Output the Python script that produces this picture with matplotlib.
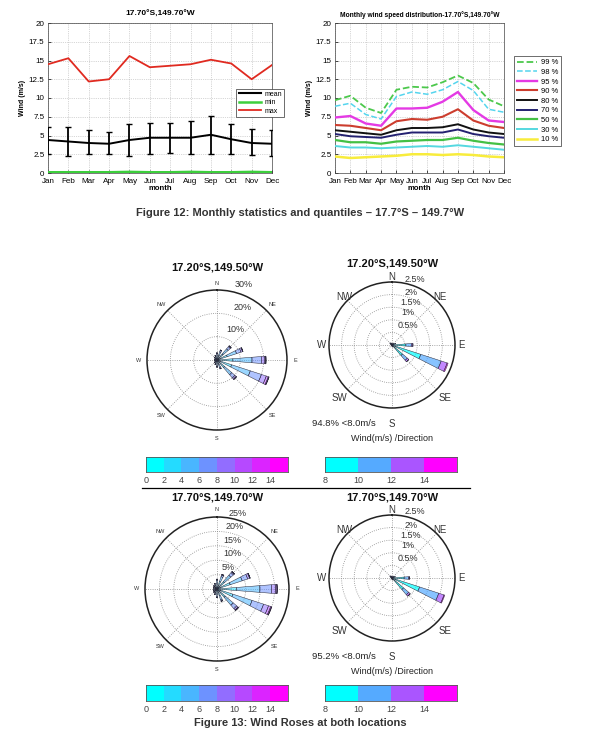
import numpy as np
import matplotlib
matplotlib.use('Agg')
import matplotlib.pyplot as plt
from matplotlib.lines import Line2D
from matplotlib.colors import ListedColormap, to_rgba

plt.rcParams['font.family'] = ['Liberation Sans', 'DejaVu Sans']

# ---------------- data: monthly statistics ----------------
months = ['Jan', 'Feb', 'Mar', 'Apr', 'May', 'Jun', 'Jul', 'Aug', 'Sep', 'Oct', 'Nov', 'Dec']
mean_ws = [4.4, 4.2, 4.0, 3.9, 4.4, 4.7, 4.7, 4.7, 5.1, 4.5, 4.0, 3.9]
err_upper = [6.2, 6.1, 5.7, 5.5, 6.5, 6.7, 6.7, 6.9, 7.6, 6.6, 5.9, 5.7]
err_lower = [2.5, 2.3, 2.5, 2.5, 2.3, 2.6, 2.7, 2.5, 2.5, 2.5, 2.4, 2.3]
min_ws = [0.1, 0.1, 0.1, 0.1, 0.15, 0.1, 0.1, 0.15, 0.1, 0.1, 0.15, 0.1]
max_ws = [14.5, 15.3, 12.2, 12.5, 15.6, 14.1, 14.3, 14.5, 15.1, 14.6, 12.5, 14.4]

# ---------------- data: monthly quantiles ----------------
quantile_labels = ['99 %', '98 %', '95 %', '90 %', '80 %', '70 %', '50 %', '30 %', '10 %']
q99 = [9.7, 10.3, 8.7, 8.0, 11.1, 11.5, 11.4, 12.1, 13.0, 12.0, 9.8, 8.9]
q98 = [8.9, 9.3, 7.8, 7.2, 10.2, 10.8, 10.5, 11.1, 12.2, 11.0, 8.5, 8.1]
q95 = [7.4, 7.6, 6.6, 6.3, 8.6, 8.6, 8.7, 9.5, 10.8, 8.4, 7.0, 6.8]
q90 = [6.4, 6.3, 6.0, 5.7, 6.9, 7.2, 7.1, 7.5, 8.5, 7.0, 6.3, 6.0]
q80 = [5.7, 5.5, 5.3, 5.1, 5.7, 6.0, 6.0, 6.1, 6.5, 5.8, 5.4, 5.2]
q70 = [5.2, 4.9, 4.8, 4.7, 5.1, 5.4, 5.4, 5.4, 5.8, 5.2, 4.9, 4.7]
q50 = [4.4, 4.1, 4.1, 3.9, 4.2, 4.3, 4.4, 4.4, 4.7, 4.3, 4.0, 3.8]
q30 = [3.6, 3.4, 3.4, 3.3, 3.4, 3.5, 3.6, 3.5, 3.7, 3.5, 3.3, 3.1]
q10 = [2.2, 2.0, 2.1, 2.2, 2.3, 2.5, 2.5, 2.4, 2.5, 2.4, 2.2, 2.1]

# ---------------- data: wind roses ----------------
rose_dirs = ['N', 'NNE', 'NE', 'ENE', 'E', 'ESE', 'SE', 'SSE',
             'S', 'SSW', 'SW', 'WSW', 'W', 'WNW', 'NW', 'NNW']
speed_bins_all = [0, 2, 4, 6, 8, 10, 12, 14]
speed_bins_high = [8, 10, 12, 14]

# % frequency per direction (rows) and speed bin (columns), all speeds
rose_a_all = [
    [0.5, 1.2, 0.9, 0.3, 0.1, 0.0, 0.0, 0.0],   # N
    [0.6, 1.6, 1.5, 0.6, 0.2, 0.0, 0.0, 0.0],   # NNE
    [0.8, 2.6, 2.9, 1.2, 0.4, 0.1, 0.0, 0.0],   # NE
    [1.0, 3.6, 4.2, 2.0, 0.7, 0.2, 0.0, 0.0],   # ENE
    [1.2, 5.6, 8.2, 4.0, 1.5, 0.4, 0.1, 0.0],   # E
    [1.2, 5.4, 8.4, 5.0, 2.2, 0.9, 0.3, 0.1],   # ESE
    [0.9, 3.4, 4.0, 1.8, 0.7, 0.2, 0.0, 0.0],   # SE
    [0.6, 1.5, 1.2, 0.5, 0.2, 0.0, 0.0, 0.0],   # SSE
    [0.5, 1.2, 0.9, 0.3, 0.1, 0.0, 0.0, 0.0],   # S
    [0.5, 0.8, 0.5, 0.2, 0.0, 0.0, 0.0, 0.0],   # SSW
    [0.4, 0.6, 0.4, 0.1, 0.0, 0.0, 0.0, 0.0],   # SW
    [0.3, 0.4, 0.3, 0.0, 0.0, 0.0, 0.0, 0.0],   # WSW
    [0.3, 0.4, 0.3, 0.0, 0.0, 0.0, 0.0, 0.0],   # W
    [0.3, 0.4, 0.3, 0.0, 0.0, 0.0, 0.0, 0.0],   # WNW
    [0.4, 0.6, 0.4, 0.1, 0.0, 0.0, 0.0, 0.0],   # NW
    [0.5, 0.8, 0.5, 0.2, 0.0, 0.0, 0.0, 0.0],   # NNW
]
# speeds above 8 m/s only
rose_a_high = [
    [0.05, 0.01, 0.0, 0.0], [0.04, 0.01, 0.0, 0.0], [0.06, 0.02, 0.0, 0.0],
    [0.12, 0.03, 0.0, 0.0], [0.55, 0.22, 0.06, 0.0], [1.20, 0.85, 0.25, 0.04],
    [0.55, 0.25, 0.08, 0.0], [0.06, 0.02, 0.0, 0.0], [0.04, 0.01, 0.0, 0.0],
    [0.02, 0.0, 0.0, 0.0], [0.02, 0.0, 0.0, 0.0], [0.02, 0.0, 0.0, 0.0],
    [0.03, 0.0, 0.0, 0.0], [0.05, 0.01, 0.0, 0.0], [0.08, 0.03, 0.0, 0.0],
    [0.06, 0.02, 0.0, 0.0],
]
rose_b_all = [
    [0.5, 1.3, 1.1, 0.4, 0.1, 0.0, 0.0, 0.0],   # N
    [0.7, 2.0, 1.8, 0.6, 0.2, 0.0, 0.0, 0.0],   # NNE
    [0.8, 2.6, 2.9, 1.2, 0.4, 0.1, 0.0, 0.0],   # NE
    [1.0, 3.8, 4.4, 2.0, 0.7, 0.2, 0.0, 0.0],   # ENE
    [1.2, 5.6, 8.1, 4.0, 1.5, 0.4, 0.1, 0.0],   # E
    [1.1, 4.7, 7.0, 4.2, 1.8, 0.8, 0.3, 0.1],   # ESE
    [0.8, 3.0, 3.6, 1.6, 0.6, 0.2, 0.0, 0.0],   # SE
    [0.6, 1.8, 1.5, 0.5, 0.1, 0.0, 0.0, 0.0],   # SSE
    [0.5, 1.2, 0.9, 0.3, 0.1, 0.0, 0.0, 0.0],   # S
    [0.5, 0.8, 0.5, 0.2, 0.0, 0.0, 0.0, 0.0],   # SSW
    [0.4, 0.6, 0.4, 0.1, 0.0, 0.0, 0.0, 0.0],   # SW
    [0.3, 0.5, 0.4, 0.0, 0.0, 0.0, 0.0, 0.0],   # WSW
    [0.3, 0.5, 0.4, 0.0, 0.0, 0.0, 0.0, 0.0],   # W
    [0.3, 0.5, 0.4, 0.0, 0.0, 0.0, 0.0, 0.0],   # WNW
    [0.4, 0.6, 0.4, 0.1, 0.0, 0.0, 0.0, 0.0],   # NW
    [0.5, 0.8, 0.5, 0.2, 0.0, 0.0, 0.0, 0.0],   # NNW
]
rose_b_high = [
    [0.05, 0.01, 0.0, 0.0], [0.04, 0.01, 0.0, 0.0], [0.06, 0.02, 0.0, 0.0],
    [0.10, 0.03, 0.0, 0.0], [0.48, 0.18, 0.04, 0.0], [1.15, 0.80, 0.22, 0.03],
    [0.60, 0.27, 0.08, 0.0], [0.06, 0.02, 0.0, 0.0], [0.04, 0.01, 0.0, 0.0],
    [0.02, 0.0, 0.0, 0.0], [0.02, 0.0, 0.0, 0.0], [0.02, 0.0, 0.0, 0.0],
    [0.03, 0.0, 0.0, 0.0], [0.05, 0.01, 0.0, 0.0], [0.08, 0.03, 0.0, 0.0],
    [0.06, 0.02, 0.0, 0.0],
]
rose_a_title = '17.20°S,149.50°W'
rose_b_title = '17.70°S,149.70°W'
rose_a_calm = '94.8% <8.0m/s'
rose_b_calm = '95.2% <8.0m/s'

# ---------------- figure ----------------
W, H = 600, 744
fig = plt.figure(figsize=(6, 7.44), dpi=100)


def fx(px):
    return px / W


def fy(py):
    return 1 - py / H


def style_line_axes(ax):
    ax.set_xlim(1, 12)
    ax.set_ylim(0, 20)
    yt = np.arange(0, 20.01, 2.5)
    ax.set_yticks(yt)
    ax.set_yticklabels(['%g' % v for v in yt])
    ax.set_xticks(np.arange(1, 13))
    ax.set_xticklabels(months)
    ax.tick_params(labelsize=5.8, direction='in', length=2, width=0.5)
    ax.tick_params(axis='x', pad=3.5)
    ax.tick_params(axis='y', pad=2.5)
    ax.grid(True, linestyle=':', color='#b0b0b0', linewidth=0.5)
    for s in ax.spines.values():
        s.set_linewidth(0.5)
        s.set_color('#444444')
    ax.set_xlabel('month', fontsize=5.5, fontweight='bold', labelpad=0)
    ax.set_ylabel('Wind (m/s)', fontsize=5, fontweight='bold', labelpad=2)


x = np.arange(1, 13)

# --- top-left: monthly statistics
ax1 = fig.add_axes([fx(48), fy(173), fx(272 - 48), (173 - 23) / H])
mean_a = np.array(mean_ws)
yerr = [mean_a - np.array(err_lower), np.array(err_upper) - mean_a]
ax1.errorbar(x, mean_ws, yerr=yerr, color='black', lw=1.4, elinewidth=1.3,
             capsize=2, capthick=1.0, zorder=3)
h_min, = ax1.plot(x, min_ws, color='#3ccf3c', lw=1.8, zorder=3)
h_max, = ax1.plot(x, max_ws, color='#e02a20', lw=1.3, zorder=3)
style_line_axes(ax1)
ax1.set_title('17.70°S,149.70°W', fontsize=6, fontweight='bold', pad=5)
leg1 = ax1.legend([Line2D([], [], color='black', lw=1.5), h_min, h_max], ['mean', 'min', 'max'],
                  loc='upper left', bbox_to_anchor=(0.826, 0.585), fontsize=5,
                  handlelength=3.2, borderpad=0.3, labelspacing=0.2, handletextpad=0.5,
                  fancybox=False, framealpha=1, edgecolor='#333333')
leg1.get_frame().set_linewidth(0.5)

# --- top-right: quantiles
ax2 = fig.add_axes([fx(335), fy(173), fx(504 - 335), (173 - 23) / H])
q_series = [q99, q98, q95, q90, q80, q70, q50, q30, q10]
q_colors = ['#4cc84c', '#55d5ee', '#e43ae4', '#cc3d2e', '#111111', '#232070',
            '#44c044', '#55d8e0', '#f8ec3c']
q_styles = ['--', '--', '-', '-', '-', '-', '-', '-', '-']
q_widths = [1.3, 1.1, 1.7, 1.5, 1.4, 1.4, 1.6, 1.4, 1.8]
handles = []
for s, c, ls, lw in zip(q_series, q_colors, q_styles, q_widths):
    h, = ax2.plot(x, s, color=c, ls=ls, lw=lw, zorder=3)
    handles.append(h)
style_line_axes(ax2)
ax2.set_title('Monthly wind speed distribution-17.70°S,149.70°W', fontsize=4.8,
              fontweight='bold', pad=4)
leg2 = fig.legend(handles, quantile_labels, loc='upper left',
                  bbox_to_anchor=(fx(510), fy(52)), fontsize=5.5, handlelength=2.6,
                  borderpad=0.4, labelspacing=0.3, handletextpad=0.5,
                  fancybox=False, framealpha=1, edgecolor='#333333')
leg2.get_frame().set_linewidth(0.5)

fig.text(0.5, fy(213), 'Figure 12: Monthly statistics and quantiles – 17.7°S – 149.7°W',
         ha='center', va='center', fontsize=8, fontweight='bold', color='#333333')

# ---------------- wind roses ----------------
cool = plt.get_cmap('cool')
colors_all = [cool(i / 7) for i in range(8)]
colors_high = [cool(i / 3) for i in range(4)]


def draw_rose(cx, cy, R, data, colors, rmax, rings, ring_offsets, dir_fs, pct_fs,
              dir_factor, title, title_y, alpha):
    ax = fig.add_axes([fx(cx - R), fy(cy + R), fx(2 * R), 2 * R / H], projection='polar')
    ax.set_theta_zero_location('N')
    ax.set_theta_direction(-1)
    ax.set_ylim(0, rmax)
    ax.grid(False)
    ax.set_xticks([])
    ax.set_yticks([])
    ax.spines['polar'].set_linewidth(1.1)
    ax.spines['polar'].set_color('#222222')
    tt = np.linspace(0, 2 * np.pi, 361)
    for r in rings[:-1]:
        ax.plot(tt, np.full_like(tt, r), ls=':', color='#8a8a8a', lw=0.6, zorder=1)
    for a in np.arange(0, 360, 45):
        ax.plot([np.deg2rad(a)] * 2, [0, rmax], ls=':', color='#8a8a8a', lw=0.6, zorder=1)
    arr = np.array(data)
    theta = np.deg2rad(np.arange(len(rose_dirs)) * 22.5)
    bottom = np.zeros(len(rose_dirs))
    for k in range(arr.shape[1]):
        fc = [to_rgba(colors[k], alpha)] * len(theta)
        ax.bar(theta, arr[:, k], width=np.deg2rad(9), bottom=bottom, color=fc,
               edgecolor='#2a2a3a', linewidth=0.35, zorder=3)
        bottom = bottom + arr[:, k]
    # direction labels
    for name, ang in zip(['N', 'NE', 'E', 'SE', 'S', 'SW', 'W', 'NW'], range(0, 360, 45)):
        f = dir_factor.get(name, dir_factor['default'])
        ax.text(np.deg2rad(ang), rmax * f, name, ha='center', va='center',
                fontsize=dir_fs, color='#333333', clip_on=False)
    # ring labels
    for r, (dx, dy) in zip(rings, ring_offsets):
        ax.annotate('%g%%' % r, xy=(0, r), xytext=(dx * 0.72, dy * 0.72),
                    textcoords='offset points', ha='center', va='center',
                    fontsize=pct_fs, color='#333333', annotation_clip=False)
    fig.text(fx(cx), fy(title_y), title, ha='center', va='center', fontsize=8,
             fontweight='bold', color='#111111')
    return ax


left_fac_a = {'default': 1.12, 'N': 1.09}
left_fac_b = {'default': 1.12, 'N': 1.1}
right_fac = {'default': 1.08, 'SE': 1.18, 'SW': 1.18, 'S': 1.25, 'E': 1.1, 'W': 1.12}

draw_rose(217, 360, 70, rose_a_all, colors_all, 30, [10, 20, 30],
          [(18, 7), (26, 6), (27, 6)], 4, 6.5, left_fac_a, rose_a_title, 268, 0.55)
axr1 = draw_rose(392, 345, 63, rose_a_high, colors_high, 2.5, [0.5, 1, 1.5, 2, 2.5],
                 [(16, 7), (16, 7), (19, 5), (19, 2), (23, 3)], 7, 6.5, right_fac,
                 rose_a_title, 263, 0.7)
draw_rose(217, 589, 72, rose_b_all, colors_all, 25, [5, 10, 15, 20, 25],
          [(11, 7), (15, 7), (15, 5), (18, 5), (21, 4)], 4, 6.5, left_fac_b, rose_b_title,
          497, 0.55)
axr2 = draw_rose(392, 578, 63, rose_b_high, colors_high, 2.5, [0.5, 1, 1.5, 2, 2.5],
                 [(16, 7), (16, 7), (19, 5), (19, 2), (23, 3)], 7, 6.5, right_fac,
                 rose_b_title, 497, 0.7)

for axr, calm in [(axr1, rose_a_calm), (axr2, rose_b_calm)]:
    axr.text(0.37, -0.125, calm, transform=axr.transAxes, ha='right', va='center',
             fontsize=6.8, color='#222222')
    axr.text(0.5, -0.24, 'Wind(m/s) /Direction', transform=axr.transAxes, ha='center',
             va='center', fontsize=6.5, color='#222222')


def draw_colorbar(x0, x1, y0, y1, colors, bins):
    ax = fig.add_axes([fx(x0), fy(y1), fx(x1 - x0), (y1 - y0) / H])
    n = len(colors)
    step = bins[1] - bins[0]
    ax.imshow(np.arange(n)[None, :], cmap=ListedColormap(colors), aspect='auto',
              extent=[bins[0], bins[0] + n * step, 0, 1], interpolation='nearest')
    ax.set_xticks(bins)
    ax.set_xticklabels([str(b) for b in bins])
    ax.set_yticks([])
    ax.tick_params(axis='x', length=0, labelsize=6.5, pad=3, labelcolor='#444444')
    for s in ax.spines.values():
        s.set_linewidth(0.6)
        s.set_color('#555555')
    return ax


draw_colorbar(146, 288, 457, 472, colors_all, speed_bins_all)
draw_colorbar(325, 457, 457, 472, colors_high, speed_bins_high)
draw_colorbar(146, 288, 685, 701, colors_all, speed_bins_all)
draw_colorbar(325, 457, 685, 701, colors_high, speed_bins_high)

fig.add_artist(Line2D([fx(142), fx(470)], [fy(488), fy(488)], color='black', lw=0.9,
                      transform=fig.transFigure))

fig.text(0.5, fy(723), 'Figure 13: Wind Roses at both locations', ha='center', va='center',
         fontsize=8, fontweight='bold', color='#333333')

fig.savefig('out.png', dpi=100)
